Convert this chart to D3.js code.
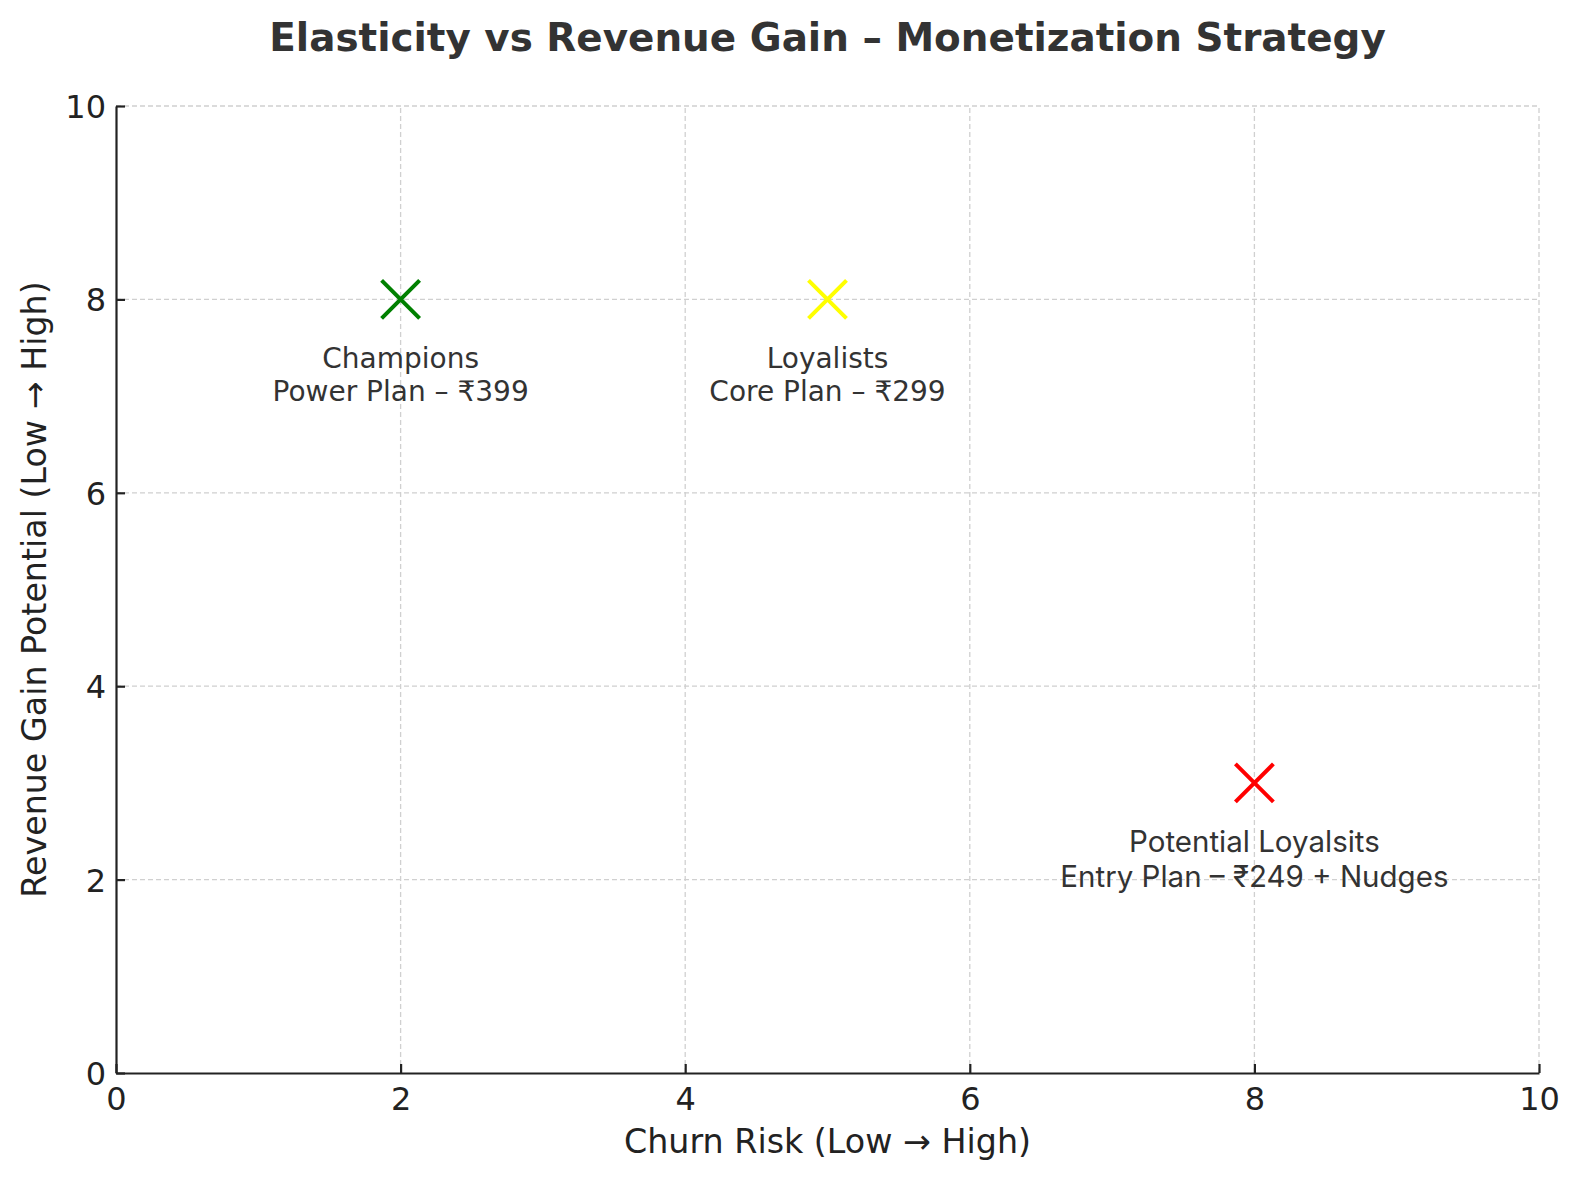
<!DOCTYPE html>
<html>
<head>
<meta charset="utf-8">
<script src="https://cdn.jsdelivr.net/npm/d3@7"></script>
<style>
  body { margin: 0; background: #fff; }
  svg { display: block; }
</style>
</head>
<body>
<svg id="chart"></svg>
<script>
// data
const segments = ["Champions", "Loyalists", "Potential Loyalsits"];
const plans = ["Power Plan – ₹399", "Core Plan – ₹299", "Entry Plan – ₹249 + Nudges"];
const churnRisk = [2, 5, 8];
const revenueGain = [8, 8, 3];
const markerColors = ["#008000", "#ffff00", "#ff0000"];
const labelFonts = ["DejaVu Sans", "DejaVu Sans", "Inter"];
const labelSizes = [28, 28, 29.5];
const tickValues = [0, 2, 4, 6, 8, 10];

const W = 1581, H = 1180;
const margin = {top: 106, right: 42, bottom: 107, left: 116};

const svg = d3.select("#chart").attr("width", W).attr("height", H);

const x = d3.scaleLinear().domain([0, 10]).range([margin.left, W - margin.right]);
const y = d3.scaleLinear().domain([0, 10]).range([H - margin.bottom, margin.top]);

// grid
const grid = svg.append("g").attr("class", "grid");
grid.selectAll("line.gx").data(tickValues.slice(1)).enter()
    .append("line").attr("class", "gx")
    .attr("x1", d => x(d)).attr("x2", d => x(d))
    .attr("y1", y(0)).attr("y2", y(10));
grid.selectAll("line.gy").data(tickValues.slice(1)).enter()
    .append("line").attr("class", "gy")
    .attr("x1", x(0)).attr("x2", x(10))
    .attr("y1", d => y(d)).attr("y2", d => y(d));
grid.selectAll("line")
    .attr("stroke", "#d0d0d0")
    .attr("stroke-width", 1.3)
    .attr("stroke-dasharray", "5,3");

// axes
const xAxis = d3.axisBottom(x).tickValues(tickValues).tickSize(-9).tickPadding(14).tickSizeOuter(0);
const yAxis = d3.axisLeft(y).tickValues(tickValues).tickSize(-9).tickPadding(10).tickSizeOuter(0);

const xAxisGroup = svg.append("g")
    .attr("class", "xAxis")
    .attr("transform", `translate(0, ${y(0)})`)
    .call(xAxis);
const yAxisGroup = svg.append("g")
    .attr("class", "yAxis")
    .attr("transform", `translate(${x(0)}, 0)`)
    .call(yAxis);

svg.selectAll(".xAxis, .yAxis").selectAll("path, line")
    .attr("stroke", "#222").attr("stroke-width", 2.2);
svg.selectAll(".xAxis, .yAxis").selectAll("text")
    .attr("font-family", "DejaVu Sans")
    .attr("font-size", 32)
    .attr("fill", "#222");
xAxisGroup.selectAll("text").attr("dy", "0.71em");
yAxisGroup.selectAll("text").attr("dy", "0.36em");

// markers (x shape)
const s = 19;
const pts = svg.append("g").selectAll("g.pt")
    .data(segments.map((d, i) => ({name: d, plan: plans[i], cx: churnRisk[i], cy: revenueGain[i],
        color: markerColors[i], font: labelFonts[i], size: labelSizes[i]})))
    .enter().append("g").attr("class", "pt")
    .attr("transform", d => `translate(${x(d.cx)}, ${y(d.cy)})`);

pts.append("path")
    .attr("d", `M${-s},${-s}L${s},${s}M${-s},${s}L${s},${-s}`)
    .attr("stroke", d => d.color)
    .attr("stroke-width", 4)
    .attr("fill", "none");

const lbl = pts.append("text")
    .attr("text-anchor", "middle")
    .attr("font-family", d => d.font)
    .attr("font-size", d => d.size)
    .attr("fill", "#333");
lbl.append("tspan").attr("x", 0).attr("y", 59).attr("dy", "0.35em").text(d => d.name);
lbl.append("tspan").attr("x", 0).attr("y", d => 59 + d.size * 1.17).attr("dy", "0.35em").text(d => d.plan);

// title and axis labels
svg.append("text")
    .attr("x", x(5)).attr("y", 51)
    .attr("text-anchor", "middle")
    .attr("font-family", "DejaVu Sans")
    .attr("font-weight", "bold")
    .attr("font-size", 38.9)
    .attr("fill", "#333")
    .text("Elasticity vs Revenue Gain – Monetization Strategy");

svg.append("text")
    .attr("x", x(5)).attr("y", 1153)
    .attr("text-anchor", "middle")
    .attr("font-family", "DejaVu Sans")
    .attr("font-size", 33.3)
    .attr("fill", "#222")
    .text("Churn Risk (Low → High)");

svg.append("text")
    .attr("transform", `translate(46, ${y(5)}) rotate(-90)`)
    .attr("text-anchor", "middle")
    .attr("font-family", "DejaVu Sans")
    .attr("font-size", 33.3)
    .attr("fill", "#222")
    .text("Revenue Gain Potential (Low → High)");
</script>
</body>
</html>
